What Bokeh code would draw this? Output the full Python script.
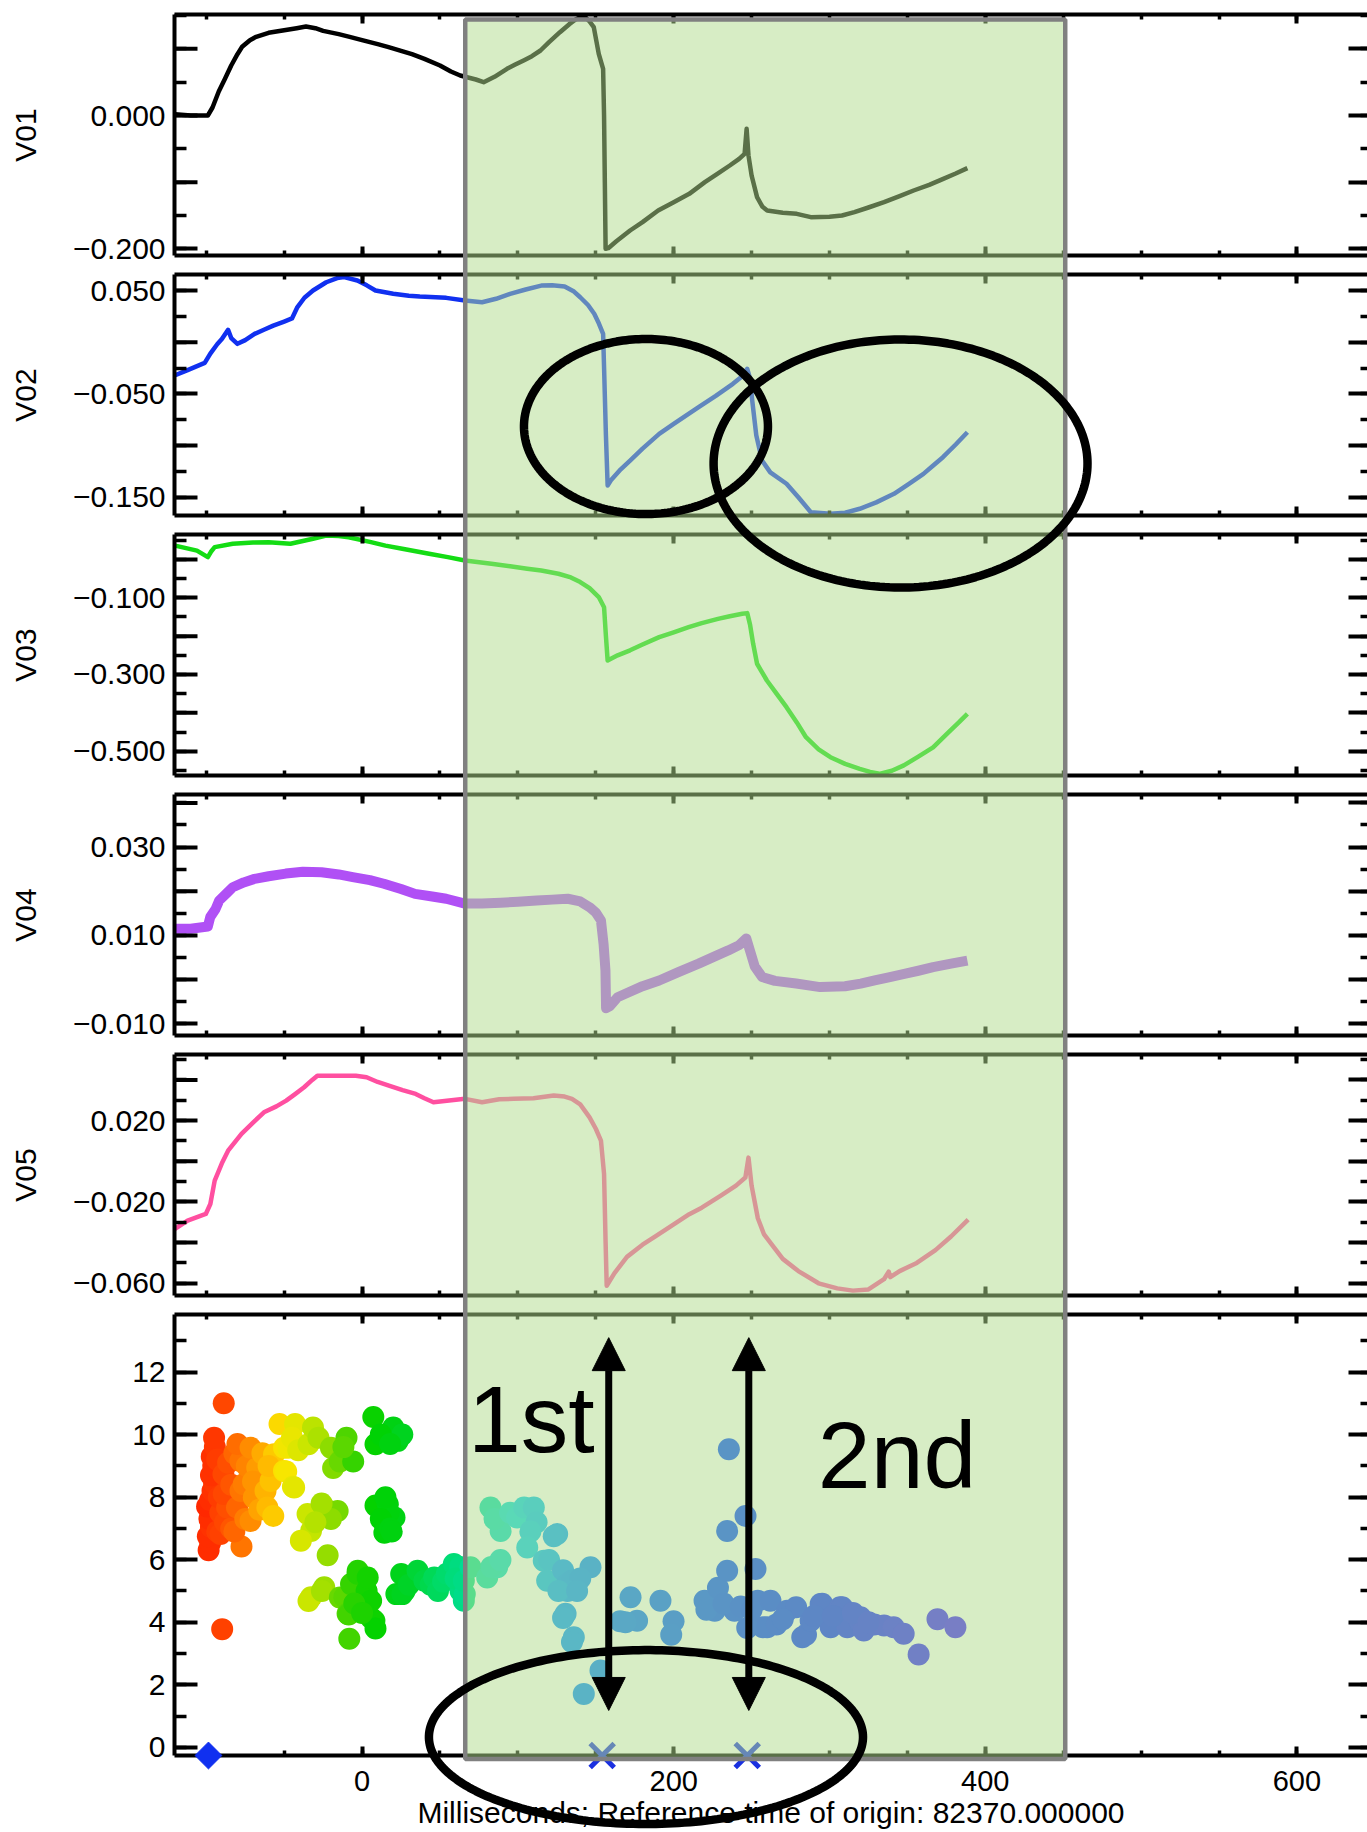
import numpy as np
from bokeh.plotting import figure
from bokeh.models import (Range1d, LinearAxis, FixedTicker, BoxAnnotation, PolyAnnotation,
                          Arrow, NormalHead, Label, ColumnDataSource, GridBox)
from bokeh.transform import linear_cmap
from bokeh.layouts import column
from bokeh.embed import file_html
from bokeh.resources import INLINE

FONT = "Liberation Sans"

# ---------------- data ----------------
T_V01 = [-120, -110, -99, -96, -92, -88, -84, -80, -77, -72, -68, -60, -50, -42, -36, -30, -25, -15, -8, 0,
         10, 17, 25, 32, 40, 50, 57, 63, 68, 73, 78, 85, 93, 98, 104, 109, 114.5, 120, 127, 133,
         137, 140, 143, 146, 148.7, 151.9, 154.7, 155.3, 155.8, 156.3, 158, 163, 172, 180, 190, 200, 210, 220, 228, 236,
         242, 245.5, 246.8, 248, 250, 253.5, 257, 260, 270, 279, 288, 300, 308, 316, 325, 335, 345, 354, 364, 373,
         381, 388.5]
V01 = [0.002, 0.0, 0.0, 0.012, 0.036, 0.055, 0.075, 0.092, 0.103, 0.113, 0.118, 0.124, 0.128, 0.131, 0.1335, 0.131, 0.127, 0.122, 0.118, 0.113,
       0.107, 0.1025, 0.097, 0.092, 0.085, 0.075, 0.066, 0.06, 0.057, 0.054, 0.050, 0.058, 0.070, 0.076, 0.083, 0.089, 0.0975, 0.11, 0.125, 0.137,
       0.144, 0.1475, 0.148, 0.141, 0.1325, 0.0925, 0.07, 0.0, -0.1, -0.2, -0.199, -0.189, -0.1725, -0.16, -0.1425, -0.13, -0.1175, -0.1, -0.0875, -0.075,
       -0.065, -0.0575, -0.02, -0.06, -0.09, -0.1225, -0.137, -0.1425, -0.146, -0.1475, -0.1525, -0.152, -0.15, -0.145, -0.138, -0.13, -0.121, -0.1125, -0.104, -0.095,
       -0.087, -0.079]

T_V02 = [-120, -112, -101, -97.4, -93, -90, -86, -84, -80, -75, -69, -63, -57, -50, -45, -41.5, -37, -31.5, -23, -16,
         -11.5, -3, 3, 8.6, 20, 30, 37, 54, 66, 77, 86, 95, 105, 115, 122, 130, 136, 140, 145, 149,
         152, 154.7, 155.3, 156.5, 157.6, 160, 166, 172, 180, 190.7, 200, 216, 227, 238, 244, 247.2, 249, 250.4, 253, 256.7,
         262, 272.4, 280, 288, 300.6, 310, 319.4, 330, 341.4, 351, 360.3, 366, 372.8, 381, 388.5]
V02 = [-0.032, -0.027, -0.02, -0.011, -0.002, 0.003, 0.012, 0.004, -0.0016, 0.002, 0.008, 0.012, 0.016, 0.02, 0.023, 0.034, 0.043, 0.05, 0.058, 0.062,
       0.063, 0.0597, 0.055, 0.05, 0.0468, 0.045, 0.0442, 0.0429, 0.0403, 0.0387, 0.042, 0.0468, 0.051, 0.0548, 0.055, 0.0539, 0.049, 0.0435, 0.036, 0.0275,
       0.018, 0.008, -0.024, -0.09, -0.1387, -0.133, -0.123, -0.1145, -0.103, -0.0887, -0.079, -0.0629, -0.052, -0.0403, -0.033, -0.0258, -0.035, -0.0564, -0.09, -0.1145,
       -0.126, -0.137, -0.15, -0.1645, -0.166, -0.165, -0.1612, -0.155, -0.1467, -0.137, -0.1274, -0.12, -0.1113, -0.099, -0.0871]

T_V03 = [-120, -106, -99, -97, -94.6, -83, -70, -60, -46, -38, -31.5, -23, -15, -8.6, 5.7, 15, 25.8, 43, 55, 66,
         83, 95, 106, 115, 126, 134, 140, 146, 151.9, 155.3, 156.5, 157.6, 164, 172, 180, 190.7, 200, 209.6, 218, 228.4,
         236, 244, 247.2, 249, 251, 253.5, 259.8, 266, 272.4, 279, 284.9, 293, 300.6, 310, 319.4, 326, 332, 340, 347.7, 357,
         366.5, 376, 383, 388.5]
V03 = [0.036, 0.023, 0.006, 0.02, 0.032, 0.041, 0.044, 0.045, 0.041, 0.048, 0.054, 0.0625, 0.061, 0.058, 0.045, 0.036, 0.028, 0.0147, 0.006, -0.003,
       -0.0113, -0.018, -0.0244, -0.029, -0.0374, -0.047, -0.059, -0.075, -0.098, -0.1245, -0.2, -0.2635, -0.25, -0.237, -0.222, -0.2027, -0.19, -0.1766, -0.166, -0.155,
       -0.148, -0.1417, -0.14, -0.17, -0.22, -0.272, -0.3157, -0.35, -0.3853, -0.425, -0.4635, -0.495, -0.5157, -0.533, -0.546, -0.554, -0.559, -0.551, -0.537, -0.514,
       -0.49, -0.452, -0.425, -0.4025]

T_V04 = [-120, -110, -99, -97.4, -94, -91.7, -87, -83, -76, -69, -60, -49, -38, -26, -15, -6, 5, 14, 25, 34,
         45, 54, 66, 77, 89, 100, 112, 122, 132, 140, 146, 150, 153.3, 155, 156.2, 156.6, 159, 164, 169, 180,
         190.7, 203, 216, 226, 235, 242, 246.6, 249, 252, 256.7, 265, 278.6, 294, 310, 320, 329, 338, 348, 357, 366.5,
         378, 388.5]
V04 = [0.0115, 0.0115, 0.012, 0.0142, 0.016, 0.0179, 0.0195, 0.0209, 0.022, 0.0228, 0.0234, 0.024, 0.0244, 0.0243, 0.0238, 0.0232, 0.0225, 0.0217, 0.0205, 0.0194,
       0.0188, 0.0183, 0.0172, 0.0172, 0.0174, 0.0176, 0.0179, 0.0181, 0.0183, 0.0177, 0.0164, 0.0152, 0.0134, 0.008, 0.0021, -0.0065, -0.006, -0.004, -0.0032, -0.0015,
       -0.0002, 0.0017, 0.0036, 0.0052, 0.0066, 0.0078, 0.0093, 0.0065, 0.003, 0.0006, -0.0003, -0.0009, -0.0017, -0.0015, -0.0009, -0.0002, 0.0005, 0.0013, 0.002, 0.0028,
       0.0036, 0.0043]

T_V05 = [-120.3, -112, -100.3, -97.4, -94.6, -90, -86, -77.4, -70, -63, -55, -48.7, -43, -37.2, -32, -28.7, -20, -11.5, -4, 2.9,
         10, 17.2, 26, 34.4, 40, 45.8, 54.4, 66, 77, 88, 97.4, 110, 123, 130, 134.7, 140, 146, 150, 153.3, 155.3,
         156.3, 157, 162, 170, 180, 188, 200, 210, 218, 230, 240, 246, 248, 250, 254, 258, 263, 270, 280, 293,
         305, 315, 325, 335, 338, 339, 345, 356, 368, 378, 389]
V05 = [-0.0333, -0.0292, -0.0259, -0.021, -0.0095, -0.001, 0.0052, 0.0135, 0.019, 0.0241, 0.027, 0.0298, 0.033, 0.0364, 0.040, 0.0421, 0.042, 0.0421, 0.042, 0.0413,
       0.039, 0.0372, 0.035, 0.0331, 0.031, 0.029, 0.0298, 0.0307, 0.029, 0.0305, 0.0307, 0.031, 0.0323, 0.0318, 0.0307, 0.028, 0.0216, 0.016, 0.0102, -0.0062,
       -0.04, -0.0612, -0.055, -0.047, -0.041, -0.037, -0.031, -0.026, -0.0228, -0.017, -0.012, -0.008, 0.0018, -0.012, -0.028, -0.036, -0.041, -0.048, -0.054, -0.06,
       -0.0625, -0.0636, -0.063, -0.058, -0.0543, -0.057, -0.054, -0.05, -0.0437, -0.037, -0.0287]

DOT_T = [-98.5, -97.5, -99, -97, -98, -99.5, -97.5, -96, -95, -97, -95.5, -96.5, -94.5, -95, -88.8, -89.8, -93, -91, -92, -93,
         -90.9, -88, -86.6, -88.8, -89, -86, -84, -82, -84, -80.3, -78, -76, -78.1, -80, -77.4, -82, -75, -74,
         -71.6, -69.5, -67.3, -71.6, -70, -66, -64, -62, -60.8, -58.7, -56.5, -60, -57,
         -53, -50.1, -50.1, -48.7, -47.3, -44.4, -43.6, -43, -45, -41,
         -35, -32.8, -39.3, -34.4, -31.5, -28, -24.3, -15.7, -20, -22.1, -32.8, -34.4, -24.3, -25.8, -20, -18.6, -14.3, -10, -5.7, -12, -26, -30,
         -14.3, -11.4, -9.3, -8.6, -8.2, -7.1, -2.8, -2.9, 2.9, 3.6, 5.8, 7.9, 5.7, 8.6, -5, 0,
         7.2, 14.3, 8.6, 20, 22.9, 25.8, 12, 18,
         8.6, 16.5, 20.8, 17, 12, 14.3, 18, 15, 19,
         25.1, 27.3, 22, 25.8, 30, 35.6, 40, 44, 46.3, 48.7, 52, 54.4, 58.9, 63.2, 63, 65.3, 60, 65.9,
         65.3, 69.6, 80.3, 86.7, 83, 88.8,
         82.4, 88.9, 85, 95, 99.5, 104, 110.2, 112, 108,
         106, 116.6, 120, 118.8, 125.2, 123, 129, 131.6, 134.7, 146.6, 140, 130.6, 131.8, 135.9, 134.7, 129, 153, 142.3, 126, 138,
         165.6, 172.3, 176.5, 169, 191.5, 199.9, 198.4, 219.8, 228.4, 226.3, 221, 235.4, 246.1, 234.3, 234.3, 252.5, 239, 254, 257.3, 247.2, 232, 243, 250,
         260, 262.1, 266, 272.8, 278.6, 282.5, 284.9, 287.9, 294.3, 295.3, 300.7, 306.8, 308.1, 311.4, 319.4, 319.9, 322, 328.8, 335, 341.2, 347.6, 357.2, 369.3, 380.8,
         270, 290, 302, 315, 325]
DOT_V = [6.3, 6.55, 6.75, 7.05, 7.3, 7.7, 7.9, 8.2, 8.45, 8.7, 9.0, 9.3, 9.6, 9.9, 11.0, 3.78, 6.9, 7.5, 8.0, 9.2,
         6.82, 7.2, 7.67, 8.1, 8.73, 9.1, 8.4, 9.4, 7.0, 7.67, 8.2, 8.41, 9.16, 9.7, 6.42, 6.9, 7.3, 9.0,
         7.24, 7.99, 8.94, 9.58, 8.5, 7.6, 9.4, 8.2, 7.67, 8.52, 9.37, 9.0, 7.4,
         10.34, 8.84, 9.58, 8.82, 9.58, 8.33, 8.31, 10.34, 9.9, 9.5,
         7.46, 6.92, 6.61, 9.69, 10.23, 9.9, 7.67, 7.56, 7.3, 6.14, 4.8, 4.68, 5.12, 5.0, 9.58, 8.93, 9.14, 9.9, 9.14, 9.6, 7.8, 7.2,
         4.79, 4.8, 4.27, 4.25, 3.47, 5.22, 5.65, 5.55, 5.0, 5.43, 4.69, 4.05, 4.14, 3.8, 4.6, 4.3,
         10.56, 9.9, 9.69, 10.23, 9.8, 10.0, 10.0, 9.7,
         7.73, 7.77, 7.35, 7.5, 7.3, 6.86, 7.0, 8.0, 6.9,
         5.54, 5.0, 4.9, 4.9, 5.2, 5.65, 5.33, 5.2, 5.43, 5.0, 5.3, 5.55, 5.86, 5.0, 5.77, 4.69, 5.4, 4.9,
         5.33, 5.76, 5.43, 5.76, 5.77, 5.99,
         7.67, 6.92, 7.3, 7.5, 7.35, 7.67, 7.67, 7.2, 6.9,
         6.39, 5.97, 5.99, 5.33, 6.82, 6.75, 5.66, 5.22, 5.33, 5.76, 5.4, 4.27, 5.0, 3.52, 3.37, 4.14, 2.46, 1.71, 5.0, 5.0,
         4.03, 4.8, 4.05, 4.0, 4.69, 4.03, 3.6, 4.69, 5.1, 4.37, 4.4, 9.53, 7.4, 6.92, 5.65, 5.7, 4.37, 4.69, 3.84, 3.82, 4.6, 4.5, 4.4,
         3.84, 4.69, 3.93, 4.37, 4.48, 3.52, 3.6, 4.05, 4.58, 4.59, 3.84, 4.48, 4.48, 3.84, 4.03, 4.16, 3.74, 3.93, 3.9, 3.84, 3.63, 2.97, 4.1, 3.84,
         4.1, 4.2, 4.2, 4.3, 4.0]

START_T = [-98.6]          # blue diamond on the time axis
START_V = [-0.26]
EVENT_T = [154.1, 247.2]   # blue crosses on the time axis
EVENT_V = [-0.26, -0.26]

SERIES_NAMES = ["V01", "V02", "V03", "V04", "V05"]
X_TITLE = "Milliseconds; Reference time of origin: 82370.000000"

# ---------------- axes configuration ----------------
X_START, X_END = -120.4, 645.3
X_MAJOR = [0, 200, 400, 600]
X_MINOR = [-100, -50, 0, 50, 100, 150, 200, 250, 300, 350, 400, 450, 500, 550, 600]

PANELS = [
    dict(t=T_V01, v=V01, color="#000000", lw=4.5, lo=-0.21, hi=0.1515,
         majors=[-0.2, -0.1, 0.0, 0.1], shown={-0.2: "\u22120.200", 0.0: "0.000"},
         minors=[-0.2, -0.15, -0.1, -0.05, 0.0, 0.05, 0.1, 0.15]),
    dict(t=T_V02, v=V02, color="#1030f0", lw=4.5, lo=-0.1677, hi=0.0655,
         majors=[-0.15, -0.1, -0.05, 0.0, 0.05], shown={-0.15: "\u22120.150", -0.05: "\u22120.050", 0.05: "0.050"},
         minors=[-0.15, -0.125, -0.1, -0.075, -0.05, -0.025, 0.0, 0.025, 0.05]),
    dict(t=T_V03, v=V03, color="#14dc14", lw=4.5, lo=-0.5634, hi=0.065,
         majors=[-0.5, -0.4, -0.3, -0.2, -0.1, 0.0], shown={-0.5: "\u22120.500", -0.3: "\u22120.300", -0.1: "\u22120.100"},
         minors=[-0.55, -0.5, -0.45, -0.4, -0.35, -0.3, -0.25, -0.2, -0.15, -0.1, -0.05, 0.0, 0.05]),
    dict(t=T_V04, v=V04, color="#b050f5", lw=10, lo=-0.01266, hi=0.0419,
         majors=[-0.01, 0.0, 0.01, 0.02, 0.03, 0.04], shown={-0.01: "\u22120.010", 0.01: "0.010", 0.03: "0.030"},
         minors=[-0.01, -0.005, 0.0, 0.005, 0.01, 0.015, 0.02, 0.025, 0.03, 0.035, 0.04]),
    dict(t=T_V05, v=V05, color="#ff4fa0", lw=4.5, lo=-0.0660, hi=0.0525,
         majors=[-0.06, -0.04, -0.02, 0.0, 0.02, 0.04], shown={-0.06: "\u22120.060", -0.02: "\u22120.020", 0.02: "0.020"},
         minors=[-0.06, -0.05, -0.04, -0.03, -0.02, -0.01, 0.0, 0.01, 0.02, 0.03, 0.04, 0.05]),
    dict(t=None, v=None, color=None, lw=None, lo=-0.26, hi=13.84,
         majors=[0, 2, 4, 6, 8, 10, 12], shown={0: "0", 2: "2", 4: "4", 6: "6", 8: "8", 10: "10", 12: "12"},
         minors=[0, 1, 2, 3, 4, 5, 6, 7, 8, 9, 10, 11, 12, 13]),
]

# layout (pixels)
WIDTH = 1367
LEFT_B = 174
HEIGHTS = [264, 260, 260, 260, 260, 528]
TOP_B = [14, 10, 10, 10, 10, 10]
BOT_B = [9, 9, 9, 9, 9, 77]
TOTAL_H = sum(HEIGHTS)
FRAME_H = [h - t - b for h, t, b in zip(HEIGHTS, TOP_B, BOT_B)]
FRAME_TOP = []
_acc = 0
for h, t in zip(HEIGHTS, TOP_B):
    FRAME_TOP.append(_acc + t)
    _acc += h
PX = (WIDTH - LEFT_B) / (X_END - X_START)      # pixels per millisecond
LONG_TICK, SHORT_TICK = 23, 12

# shaded interval and hand-drawn annotations (data units of the panel named)
SHADE_T = (66.2, 451.3)
SHADE_TOP_V01 = 0.144          # in V01 units
SHADE_BOTTOM_P6 = -0.372       # in bottom-panel units
ELLIPSES_V02 = [(182.2, -0.0816, 78.3, 0.0847), (345.6, -0.1174, 120.0, 0.120)]
ELLIPSE_P6 = (182.2, 0.33, 139.3, 2.78)
ARROW_T = [158.3, 248.2]
ARROW_LO, ARROW_HI = 1.18, 13.1
TAGS = [("1st", 68.0, 10.5), ("2nd", 292.5, 9.35)]

# colours of the scatter along time
DOT_COLOR_ANCHORS = [(-105, (255, 30, 0)), (-90, (255, 70, 0)), (-75, (255, 130, 0)), (-60, (255, 190, 0)),
                     (-50, (250, 230, 0)), (-35, (200, 230, 0)), (-20, (140, 220, 0)), (-5, (40, 210, 0)),
                     (10, (0, 210, 0)), (30, (0, 212, 40)), (55, (0, 220, 110)), (80, (0, 220, 175)),
                     (100, (0, 215, 230)), (130, (0, 150, 255)), (170, (0, 115, 255)), (250, (0, 65, 255)),
                     (300, (10, 45, 255)), (385, (65, 30, 255))]


def make_palette(anchors, n=256):
    ts = np.array([a[0] for a in anchors], float)
    cs = np.array([a[1] for a in anchors], float)
    grid = np.linspace(ts[0], ts[-1], n)
    rgb = [np.interp(grid, ts, cs[:, i]) for i in range(3)]
    return ["#%02x%02x%02x" % (int(r), int(g), int(b)) for r, g, b in zip(*rgb)], ts[0], ts[-1]


def to_px(k, y):
    c = PANELS[k]
    return FRAME_TOP[k] + (c["hi"] - np.asarray(y, float)) / (c["hi"] - c["lo"]) * FRAME_H[k]


def to_val(k, py):
    c = PANELS[k]
    return c["hi"] - (py - FRAME_TOP[k]) / FRAME_H[k] * (c["hi"] - c["lo"])


def ellipse(cx, cy, rx, ry, n=240):
    a = np.linspace(0, 2 * np.pi, n)
    return cx + rx * np.cos(a), cy + ry * np.sin(a)


def style_axis(ax, tin, min_in, labels, size="30px"):
    ax.axis_line_width = 4
    ax.axis_line_color = "black"
    ax.major_tick_line_width = 4
    ax.minor_tick_line_width = 3.5
    ax.major_tick_line_color = "black"
    ax.minor_tick_line_color = "black"
    ax.major_tick_in = tin
    ax.major_tick_out = 0
    ax.minor_tick_in = min_in
    ax.minor_tick_out = 0
    if labels:
        ax.major_label_text_font = FONT
        ax.major_label_text_font_size = size
        ax.major_label_text_color = "black"
    else:
        ax.major_label_text_font_size = "0px"
        ax.major_label_text_color = None
        ax.major_label_standoff = 0


x_range = Range1d(X_START, X_END)
figs = []
for k, cfg in enumerate(PANELS):
    p = figure(width=WIDTH, height=HEIGHTS[k], x_range=x_range, y_range=Range1d(cfg["lo"], cfg["hi"]),
               output_backend="svg", toolbar_location=None, x_axis_type=None, y_axis_type=None,
               min_border_left=LEFT_B, min_border_right=0, min_border_top=TOP_B[k], min_border_bottom=BOT_B[k])
    p.outline_line_color = None
    p.background_fill_color = "white"
    p.border_fill_color = "white"

    labelled = list(cfg["shown"].keys())
    yl = LinearAxis(ticker=FixedTicker(ticks=labelled, minor_ticks=cfg["minors"]),
                    major_label_overrides=dict(cfg["shown"]))
    style_axis(yl, LONG_TICK, SHORT_TICK, True)
    yl.major_label_standoff = 9
    if k < 5:
        yl.axis_label = SERIES_NAMES[k]
        yl.axis_label_text_font = FONT
        yl.axis_label_text_font_size = "30px"
        yl.axis_label_text_font_style = "normal"
        yl.axis_label_text_color = "black"
        yl.axis_label_standoff = 28
    p.add_layout(yl, "left")

    # long but unlabelled major ticks on the left edge
    unl = [m for m in cfg["majors"] if m not in cfg["shown"]]
    if unl:
        p.segment(x0=[X_START] * len(unl), y0=unl, x1=[X_START + LONG_TICK / PX] * len(unl), y1=unl,
                  line_color="black", line_width=4)

    yr = LinearAxis(ticker=FixedTicker(ticks=cfg["majors"], minor_ticks=cfg["minors"]))
    style_axis(yr, 19, 7, False)
    yr.axis_line_color = None
    p.add_layout(yr, "right")

    xt = LinearAxis(ticker=FixedTicker(ticks=X_MAJOR, minor_ticks=X_MINOR))
    style_axis(xt, 9, 5, False)
    p.add_layout(xt, "above")

    xb = LinearAxis(ticker=FixedTicker(ticks=X_MAJOR, minor_ticks=X_MINOR))
    style_axis(xb, 9, 5, k == 5, size="29px")
    if k == 5:
        xb.major_label_standoff = 15
        xb.axis_label = X_TITLE
        xb.axis_label_text_font = FONT
        xb.axis_label_text_font_size = "30px"
        xb.axis_label_text_font_style = "normal"
        xb.axis_label_text_color = "black"
        xb.axis_label_standoff = 2
    p.add_layout(xb, "below")

    if k < 5:
        p.line(cfg["t"], cfg["v"], line_color=cfg["color"], line_width=cfg["lw"], line_join="round")
    else:
        pal, lo, hi = make_palette(DOT_COLOR_ANCHORS)
        src = ColumnDataSource(dict(t=DOT_T, v=DOT_V))
        p.scatter("t", "v", source=src, size=22, line_color=None,
                  fill_color=linear_cmap("t", pal, lo, hi))
    figs.append(p)

stack = column(*figs, spacing=0)

# ---------------- transparent overlay over the whole stack ----------------
ov = figure(width=WIDTH, height=TOTAL_H, x_range=Range1d(X_START - LEFT_B / PX, X_END),
            y_range=Range1d(TOTAL_H, 0), output_backend="svg", toolbar_location=None,
            x_axis_type=None, y_axis_type=None,
            min_border_left=0, min_border_right=0, min_border_top=0, min_border_bottom=0)
ov.outline_line_color = None
ov.background_fill_alpha = 0
ov.border_fill_alpha = 0
ov.extra_y_ranges = {"p6": Range1d(to_val(5, TOTAL_H), to_val(5, 0))}

# event markers on the time axis of the bottom panel
ov.scatter(START_T, START_V, y_range_name="p6", marker="square", angle=np.pi / 4, size=19,
           fill_color="#1030f0", line_color="#1030f0")
ov.scatter(EVENT_T, EVENT_V, y_range_name="p6", marker="x", size=34, line_color="#1a30e0", line_width=5)

# translucent green interval with grey border, spanning all panels
ov.add_layout(BoxAnnotation(left=SHADE_T[0], right=SHADE_T[1],
                            top=float(to_px(0, SHADE_TOP_V01)), bottom=float(to_px(5, SHADE_BOTTOM_P6)),
                            fill_color="#b0dc8d", fill_alpha=0.51,
                            line_color="#808080", line_alpha=1.0, line_width=4.5))

# hand-drawn ellipses
for (cx, cy, rx, ry) in ELLIPSES_V02:
    xs, ys = ellipse(cx, cy, rx, ry)
    ov.add_layout(PolyAnnotation(xs=list(xs), ys=list(to_px(1, ys)), fill_color=None, fill_alpha=0,
                                 line_color="black", line_alpha=1.0, line_width=8.5, level="overlay"))
xs, ys = ellipse(*ELLIPSE_P6)
ov.add_layout(PolyAnnotation(xs=list(xs), ys=list(to_px(5, ys)), fill_color=None, fill_alpha=0,
                             line_color="black", line_alpha=1.0, line_width=8.5, level="overlay"))

for t in ARROW_T:
    ov.add_layout(Arrow(start=NormalHead(size=33, fill_color="black", line_color="black"),
                        end=NormalHead(size=33, fill_color="black", line_color="black"),
                        x_start=t, y_start=ARROW_LO, x_end=t, y_end=ARROW_HI, y_range_name="p6",
                        line_width=7, line_color="black", level="overlay"))

for txt, tx, ty in TAGS:
    ov.add_layout(Label(x=tx, y=ty, y_range_name="p6", text=txt, text_font=FONT, text_font_size="95px",
                        text_color="black", text_baseline="alphabetic", level="overlay"))

root = GridBox(children=[(stack, 0, 0), (ov, 0, 0)])
open("out.html", "w").write(file_html(root, INLINE))
